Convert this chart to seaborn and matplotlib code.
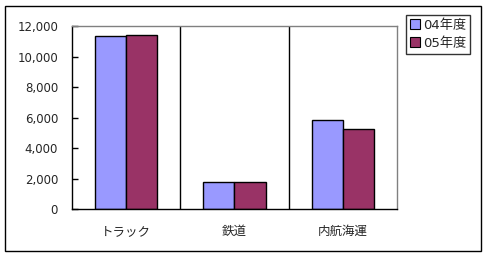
import matplotlib
matplotlib.use("Agg")
import matplotlib.pyplot as plt
import seaborn as sns
import pandas as pd
from matplotlib.patches import Rectangle
from matplotlib.lines import Line2D
from matplotlib.ticker import FuncFormatter

categories = ["トラック", "鉄道", "内航海運"]
series_names = ["04年度", "05年度"]
values_04 = [11330, 1770, 5830]
values_05 = [11410, 1770, 5240]
colors = ["#9999FF", "#993366"]

sns.set_theme(style="white")
plt.rcParams['font.family'] = ['DejaVu Sans', 'Noto Sans CJK JP']

df = pd.DataFrame({
    "cat": categories * 2,
    "series": [series_names[0]] * 3 + [series_names[1]] * 3,
    "value": values_04 + values_05,
})

fig = plt.figure(figsize=(4.87, 2.57), dpi=100)
ax = fig.add_axes([72/487, 1-209.3/257, (397-72)/487, (209.3-26)/257])

sns.barplot(data=df, x="cat", y="value", hue="series", palette=colors,
            width=0.575, gap=0, edgecolor="black", linewidth=1.0,
            ax=ax, legend=False, saturation=1)

ax.set_xlim(-0.5, 2.5)
ax.set_ylim(0, 12000)
ax.set_yticks(range(0, 12001, 2000))
ax.yaxis.set_major_formatter(FuncFormatter(lambda v, p: f"{int(v):,}"))
ax.set_xlabel("")
ax.set_ylabel("")
for xv in [0.5, 1.5]:
    ax.axvline(xv, color="black", lw=1.0)

for s in ["left", "bottom"]:
    ax.spines[s].set_color("black")
    ax.spines[s].set_linewidth(1.0)
for s in ["top", "right"]:
    ax.spines[s].set_color("#808080")
    ax.spines[s].set_linewidth(1.0)

ax.tick_params(axis="y", direction="in", length=4, width=1, color="black",
               labelsize=8.5, pad=10, left=True)
ax.tick_params(axis="x", length=0, labelsize=9, pad=11)

# outer chart border
fig.patches.append(Rectangle((5/487, 6/257), 476/487, 245/257, transform=fig.transFigure,
                             fill=False, edgecolor="black", lw=1.0))

handles = [Line2D([], [], marker="s", linestyle="none", markersize=7.5,
                  markerfacecolor=c, markeredgecolor="black", markeredgewidth=0.8)
           for c in colors]
leg = fig.legend(handles, series_names, loc="upper left",
                 bbox_to_anchor=(406/487, 1-15/257), fontsize=9.5,
                 frameon=True, fancybox=False, handlelength=0.7, handletextpad=0.3,
                 borderpad=0.3, labelspacing=0.35, borderaxespad=0)
leg.get_frame().set_edgecolor("black")
leg.get_frame().set_linewidth(1.0)

fig.savefig("out.png", dpi=100)
